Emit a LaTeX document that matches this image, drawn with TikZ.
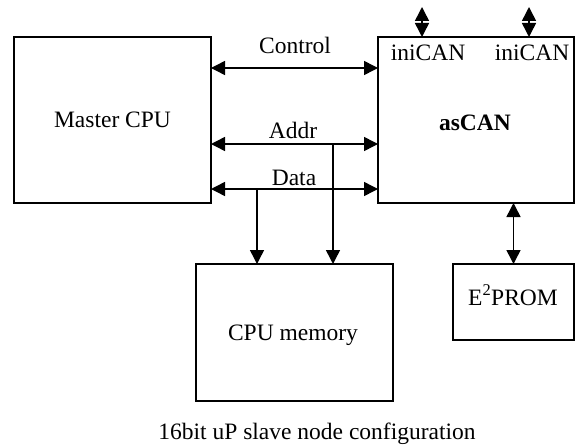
\documentclass[tikz,border=0pt]{standalone}
\usepackage{fontspec}
\setmainfont{Liberation Serif}
\usetikzlibrary{arrows.meta}
\begin{document}
\begin{tikzpicture}[x=1pt,y=-1pt,
  every node/.style={font=\fontsize{23.5}{28}\selectfont},
  block/.style={draw, line width=1.6pt, inner sep=0pt, outer sep=0pt},
  txt/.style={anchor=base, inner sep=0pt},
  tip/.tip={Triangle[length=14pt,width=14pt]},
  bus/.style={line width=1.5pt, tip-tip},
  feed/.style={line width=1.5pt, -tip}]
\useasboundingbox (0,0) rectangle (575,444);

% functional blocks
\node[block, minimum width=197pt, minimum height=166pt] (master) at (112.5,120) {Master CPU};
\node[block, minimum width=196pt, minimum height=166pt] (ascan) at (476,120) {};
\node[block, minimum width=197pt, minimum height=137pt] (mem) at (294.5,332.5) {};
\node[block, minimum width=121pt, minimum height=76pt] (eprom) at (513.5,302) {};

% block texts
\node[txt] (ascantxt) at (475,130) {\bfseries asCAN};
\node[txt] (can1txt) at (428,60) {iniCAN};
\node[txt] (can2txt) at (532,60) {iniCAN};
\node[txt] (memtxt) at (293,340) {CPU memory};
\node[txt] (eptxt) at (513,305) {E\textsuperscript{2}PROM};

% bus labels
\node[txt] (ctllbl) at (295,54) {Control};
\node[txt] (addrlbl) at (293,138) {Addr};
\node[txt] (datalbl) at (294,185) {Data};

% buses between master and asCAN
\draw[bus] ([yshift=52pt]master.east) -- ([yshift=52pt]ascan.west);
\draw[bus] ([yshift=-24pt]master.east) -- ([yshift=-24pt]ascan.west);
\draw[bus] ([yshift=-69pt]master.east) -- ([yshift=-69pt]ascan.west);

% taps to the CPU memory
\coordinate (addrJ) at (333,144);
\coordinate (dataJ) at (257,189);
\draw[feed] (addrJ) -- (addrJ |- mem.north);
\draw[feed] (dataJ) -- (dataJ |- mem.north);

% CAN lines
\coordinate (can1) at (422,7);
\coordinate (can2) at (529,7);
\draw[bus] (can1) -- (can1 |- ascan.north);
\draw[bus] (can2) -- (can2 |- ascan.north);

% serial EEPROM link
\draw[bus] (eprom.north) -- (eprom.north |- ascan.south);

% caption
\node[txt] (caption) at (317,439) {16bit uP slave node configuration};
\end{tikzpicture}
\end{document}
